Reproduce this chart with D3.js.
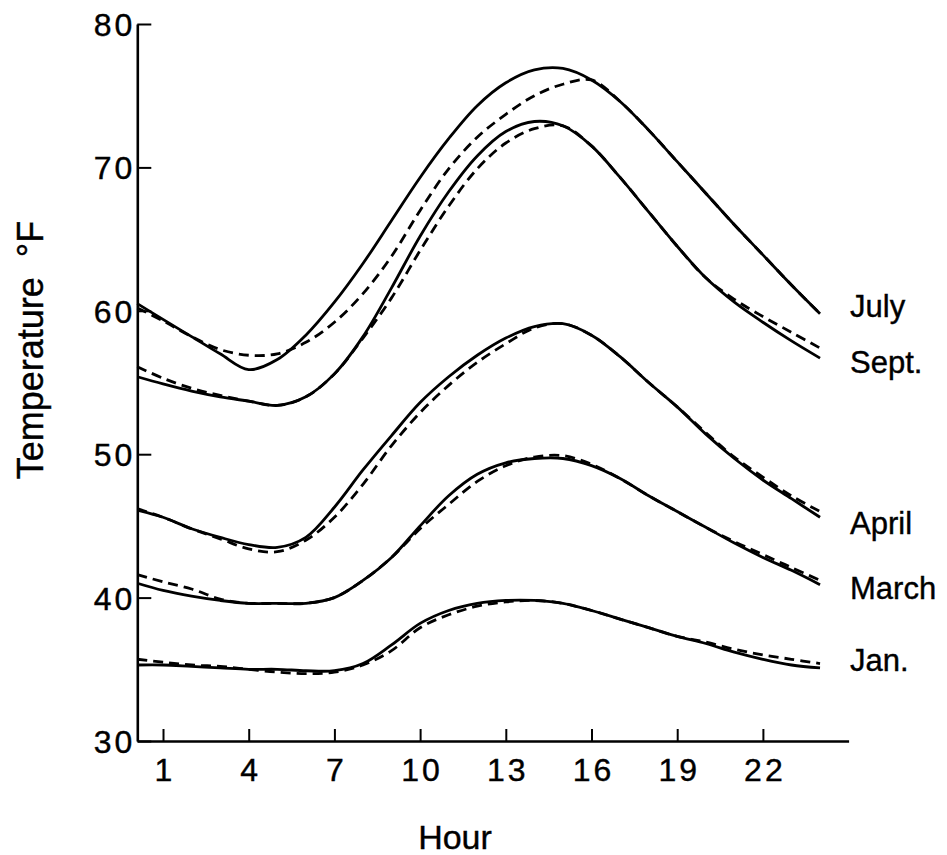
<!DOCTYPE html>
<html>
<head>
<meta charset="utf-8">
<script src="https://cdn.jsdelivr.net/npm/d3@7"></script>
<style>
    html, body { margin: 0; padding: 0; background: #fff; }
    svg { display: block; }
    .axis path, .axis line { stroke: #000; }
    .axis text { font-family: 'Liberation Sans', Arial, sans-serif; font-size: 32px; fill: #000; stroke: #000; stroke-width: 0.4; letter-spacing: 3px; }
    .title { font-family: 'Liberation Sans', Arial, sans-serif; fill: #000; stroke: #000; stroke-width: 0.4; }
    .month { font-family: 'Liberation Sans', Arial, sans-serif; font-size: 31px; fill: #000; stroke: #000; stroke-width: 0.4; }
    .line { fill: none; stroke: #000; stroke-width: 2.8; }
    .line--dashed { stroke-dasharray: 10 6; stroke-width: 2.8; }
</style>
</head>
<body>
<svg id="chart" width="947" height="855"></svg>
<script>
// Data //
const hours = [0.1, 1, 2, 3, 4, 5, 6, 7, 8, 9, 10, 11, 12, 13, 14, 15, 16, 17, 18, 19, 20, 21, 22, 23, 24]

const months = ['July', 'Sept.', 'April', 'March', 'Jan.']

// solid = one curve, dashed = the other, both (deg F)
const julySolid   = [60.5, 59.4, 58.2, 57.0, 55.9, 56.6, 58.3, 60.6, 63.3, 66.3, 69.3, 72.0, 74.3, 75.9, 76.8, 76.9, 76.1, 74.6, 72.6, 70.4, 68.2, 66.0, 63.9, 61.8, 59.8]
const julyDashed  = [60.2, 59.3, 58.2, 57.3, 56.9, 57.0, 57.8, 59.2, 61.2, 63.8, 67.0, 69.9, 72.1, 73.7, 75.0, 75.8, 76.1, 74.6, 72.6, 70.4, 68.2, 66.0, 63.9, 61.8, 59.8]
const septSolid   = [55.4, 54.9, 54.4, 54.0, 53.7, 53.4, 54.0, 55.6, 58.2, 61.6, 65.2, 68.3, 70.8, 72.5, 73.2, 72.9, 71.5, 69.3, 66.9, 64.5, 62.3, 60.6, 59.2, 57.9, 56.7]
const septDashed  = [56.1, 55.3, 54.6, 54.1, 53.7, 53.4, 54.0, 55.6, 58.1, 60.9, 64.2, 67.3, 69.9, 71.7, 72.7, 72.9, 71.5, 69.3, 66.9, 64.5, 62.3, 60.8, 59.6, 58.5, 57.4]
const aprilSolid  = [46.1, 45.6, 44.8, 44.2, 43.7, 43.5, 44.2, 46.3, 48.9, 51.3, 53.6, 55.4, 56.9, 58.1, 58.9, 59.1, 58.3, 56.8, 55.0, 53.3, 51.4, 49.7, 48.2, 46.9, 45.6]
const aprilDashed = [46.2, 45.6, 44.8, 44.1, 43.4, 43.2, 44.0, 45.6, 47.9, 50.6, 52.9, 54.8, 56.4, 57.7, 58.8, 59.1, 58.3, 56.8, 55.0, 53.3, 51.5, 49.8, 48.4, 47.1, 46.0]
const marchSolid  = [41.0, 40.5, 40.1, 39.8, 39.6, 39.6, 39.6, 40.0, 41.2, 42.8, 45.0, 47.1, 48.6, 49.4, 49.7, 49.7, 49.2, 48.3, 47.1, 46.0, 44.9, 43.8, 42.8, 41.9, 40.9]
const marchDashed = [41.6, 41.1, 40.6, 39.9, 39.6, 39.6, 39.6, 40.0, 41.2, 42.8, 44.8, 46.5, 48.1, 49.2, 49.8, 49.9, 49.3, 48.3, 47.1, 46.0, 44.9, 43.9, 43.0, 42.1, 41.2]
const janSolid    = [35.3, 35.3, 35.2, 35.1, 35.0, 35.0, 34.9, 34.9, 35.4, 36.7, 38.2, 39.1, 39.6, 39.8, 39.8, 39.6, 39.1, 38.5, 37.9, 37.3, 36.8, 36.2, 35.7, 35.3, 35.1]
const janDashed   = [35.7, 35.5, 35.3, 35.2, 35.0, 34.8, 34.7, 34.8, 35.3, 36.3, 37.9, 38.8, 39.4, 39.7, 39.8, 39.6, 39.1, 38.5, 37.9, 37.3, 36.9, 36.4, 36.0, 35.7, 35.4]

const xTicks = [1, 4, 7, 10, 13, 16, 19, 22]
const yTicks = [30, 40, 50, 60, 70, 80]

const series = [
    { month: months[0], solid: julySolid, dashed: julyDashed },
    { month: months[1], solid: septSolid, dashed: septDashed },
    { month: months[2], solid: aprilSolid, dashed: aprilDashed },
    { month: months[3], solid: marchSolid, dashed: marchDashed },
    { month: months[4], solid: janSolid, dashed: janDashed },
]

// Scales //
const svg = d3.select('#chart')

const x = d3.scaleLinear().domain([0.1, 25]).range([137.3, 848.6])
const y = d3.scaleLinear().domain([30, 80]).range([741, 24])

const line = d3.line()
    .x(d => x(d[0]))
    .y(d => y(d[1]))
    .curve(d3.curveCatmullRom.alpha(0.5))

const toPoints = values => hours.map((h, i) => [h, values[i]])

// Axes //
const drawAxes = () => {
    const xAxis = d3.axisBottom(x)
        .tickValues(xTicks)
        .tickSizeInner(-12)
        .tickSizeOuter(0)
        .tickPadding(17)

    const yAxis = d3.axisLeft(y)
        .tickValues(yTicks)
        .tickSizeInner(-14)
        .tickSizeOuter(0)
        .tickPadding(2)

    const gx = svg.append('g')
        .attr('class', 'axis axis--x')
        .attr('transform', `translate(0,${y(30)})`)
        .call(xAxis)

    gx.select('.domain').attr('stroke-width', 2.6)
    gx.selectAll('.tick line').attr('stroke-width', 2)
    gx.selectAll('.tick text').attr('dx', '1.5')

    const gy = svg.append('g')
        .attr('class', 'axis axis--y')
        .attr('transform', `translate(${x(0.1)},0)`)
        .call(yAxis)

    gy.select('.domain').attr('stroke-width', 2.6)
    gy.selectAll('.tick line').attr('stroke-width', 2)
    gy.selectAll('.tick text').attr('dy', '0.36em')

    svg.append('text')
        .attr('class', 'title')
        .attr('x', 455)
        .attr('y', 849)
        .attr('text-anchor', 'middle')
        .attr('font-size', 34)
        .text('Hour')

    svg.append('text')
        .attr('class', 'title')
        .attr('transform', 'translate(43,350) rotate(-90)')
        .attr('text-anchor', 'middle')
        .attr('font-size', 36)
        .style('white-space', 'pre')
        .text('Temperature  °F')
}

// Drawers //
const labelNudge = { 'July': -8, 'Sept.': 4, 'April': 6, 'March': 3, 'Jan.': -8 }

const drawLines = () => {
    const groups = svg.selectAll('.month-group')
        .data(series)
        .enter()
        .append('g')
            .attr('class', 'month-group')

    groups.append('path')
        .attr('class', 'line line--dashed')
        .attr('d', d => line(toPoints(d.dashed)))

    groups.append('path')
        .attr('class', 'line line--solid')
        .attr('d', d => line(toPoints(d.solid)))

    groups.append('text')
        .attr('class', 'month')
        .attr('x', x(24) + 30)
        .attr('y', d => y(d.solid[d.solid.length - 1]) + labelNudge[d.month])
        .attr('dy', '0.36em')
        .text(d => d.month)
}

drawAxes()
drawLines()
</script>
</body>
</html>
